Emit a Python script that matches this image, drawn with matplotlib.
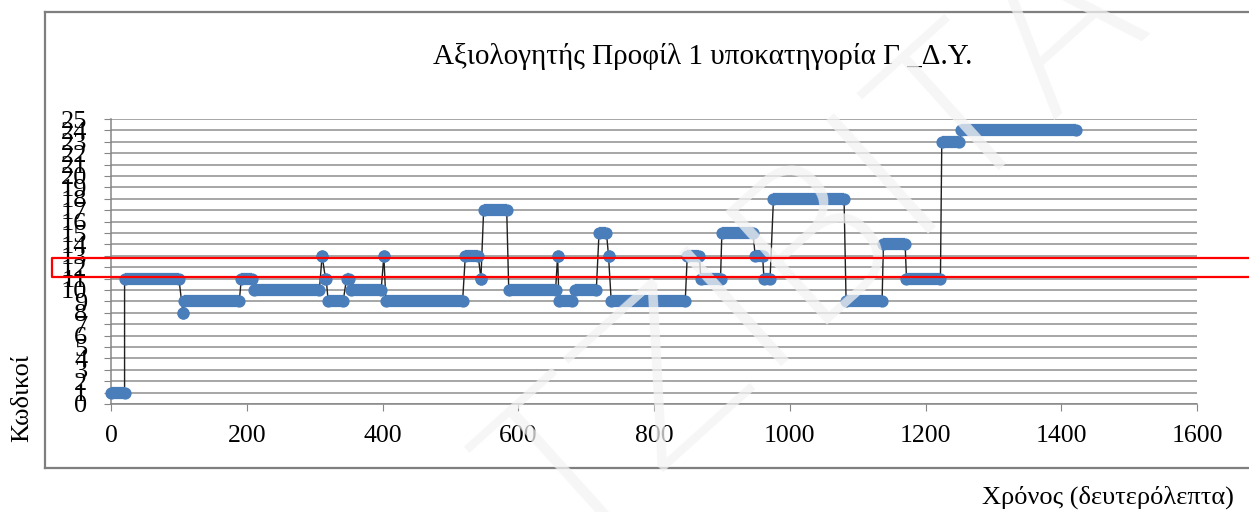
import matplotlib
matplotlib.use('Agg')
import matplotlib.pyplot as plt
from matplotlib.lines import Line2D

plt.rcParams['font.family'] = ['Liberation Serif', 'DejaVu Serif']

# Coded segments: start time, end time (seconds) and code held in between
seg_start = [0, 20, 106, 108, 192, 211, 311, 316, 320, 347, 354, 402, 405, 522,
             545, 549, 586, 658, 660, 684, 719, 733, 737, 849, 869, 900, 949,
             962, 976, 1083, 1138, 1172, 1224, 1253]
seg_end = [20, 100, 106, 189, 207, 307, 311, 317, 342, 351, 398, 402, 518, 541,
           545, 583, 655, 658, 679, 715, 730, 733, 846, 867, 898, 946, 960,
           971, 1080, 1136, 1170, 1222, 1250, 1421]
seg_code = [1, 11, 8, 9, 11, 10, 13, 11, 9, 11, 10, 13, 9, 13,
            11, 17, 10, 13, 9, 10, 15, 13, 9, 13, 11, 15, 13,
            11, 18, 9, 14, 11, 23, 24]

x_ticks = [0, 200, 400, 600, 800, 1000, 1200, 1400, 1600]
y_ticks = list(range(26))

title = 'Αξιολογητής Προφίλ 1 υποκατηγορία Γ _Δ.Υ.'
x_label = 'Χρόνος (δευτερόλεπτα)'
y_label = 'Κωδικοί'

blue = '#4a7ebb'
axis_gray = '#868686'

W, H = 1249, 512
fig = plt.figure(figsize=(W / 100, H / 100), dpi=100)
fig.patch.set_facecolor('white')

ax = fig.add_axes([111 / W, 1 - 404 / H, (1197 - 111) / W, (404 - 119) / H])
ax.set_xlim(0, 1600)
ax.set_ylim(0, 25)
ax.set_xticks(x_ticks)
ax.set_yticks(y_ticks)
ax.grid(axis='y', color='#8e8e8e', lw=1.1, zorder=0)
ax.set_axisbelow(True)
for side in ['top', 'right']:
    ax.spines[side].set_visible(False)
for side in ['left', 'bottom']:
    ax.spines[side].set_color(axis_gray)
    ax.spines[side].set_linewidth(1.1)
ax.tick_params(axis='x', direction='out', length=5, color=axis_gray, pad=10,
               labelsize=18.5)
ax.tick_params(axis='y', direction='out', length=5, color=axis_gray, pad=12,
               labelsize=19)

# thin connecting line through every point
xs, ys = [], []
for s, e, c in zip(seg_start, seg_end, seg_code):
    xs += [s, e]
    ys += [c, c]
ax.plot(xs, ys, color='#202020', lw=1.0, zorder=2, clip_on=False)

# thick rounded runs of markers
for s, e, c in zip(seg_start, seg_end, seg_code):
    ax.plot([s, e], [c, c], color=blue, lw=8.8, marker='o', ms=8.8, mew=0,
            solid_capstyle='butt', zorder=3, clip_on=False)

# titles
fig.text(703 / W, 1 - 56 / H, title, ha='center', va='center', fontsize=21)
fig.text(1234 / W, 1 - 497 / H, x_label, ha='right', va='center', fontsize=19)
fig.text(22 / W, 1 - 398 / H, y_label, ha='center', va='center', fontsize=19,
         rotation=90)

# chart frame
frame_kw = dict(color='#7f7f7f', lw=1.6, transform=fig.transFigure)
fig.add_artist(Line2D([45 / W, 1.01], [1 - 12 / H, 1 - 12 / H], **frame_kw))
fig.add_artist(Line2D([45 / W, 45 / W], [1 - 12 / H, 1 - 468 / H], **frame_kw))
fig.add_artist(Line2D([45 / W, 1.01], [1 - 468 / H, 1 - 468 / H], **frame_kw))

# red highlight box
red_kw = dict(color='#ff0000', lw=1.6, transform=fig.transFigure, zorder=10)
fig.add_artist(Line2D([1.01, 52 / W, 52 / W, 1.01],
                      [1 - 258 / H, 1 - 258 / H, 1 - 277 / H, 1 - 277 / H],
                      **red_kw))

# faint watermark
fig.text(820 / W, 1 - 250 / H, 'ΤΖΙΒΙΤΑ', ha='center', va='center',
         fontsize=150, rotation=42, color='#f3f3f3', alpha=0.75,
         family='DejaVu Sans', fontweight='light', zorder=9)

fig.savefig('out.png', dpi=100)
